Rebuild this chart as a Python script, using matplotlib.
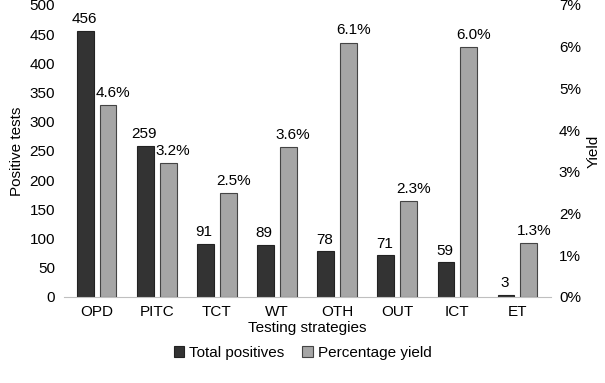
import matplotlib as mpl
import matplotlib.pyplot as plt
import numpy as np
from matplotlib.ticker import FuncFormatter

mpl.rcParams['font.family'] = ['Liberation Sans', 'DejaVu Sans']
mpl.rcParams['font.size'] = 11

strategies = ['OPD', 'PITC', 'TCT', 'WT', 'OTH', 'OUT', 'ICT', 'ET']
total_positives = [456, 259, 91, 89, 78, 71, 59, 3]
yield_pct = [4.6, 3.2, 2.5, 3.6, 6.1, 2.3, 6.0, 1.3]

dark = '#333333'
light = '#a6a6a6'

fig = plt.figure(figsize=(6.05, 3.83), dpi=100)
ax = fig.add_axes([0.105, 0.225, 0.805, 0.762])
ax2 = ax.twinx()

x = np.arange(len(strategies))
w = 0.28
off = 0.19

b1 = ax.bar(x - off, total_positives, w, color=dark, edgecolor='#222222',
            linewidth=0.8, label='Total positives')
b2 = ax2.bar(x + off, yield_pct, w, color=light, edgecolor='#444444',
             linewidth=0.8, label='Percentage yield')

for xi, v in zip(x, total_positives):
    ax.text(xi - off - 0.02, v + 8, str(v), ha='center', va='bottom')
for xi, v in zip(x, yield_pct):
    ax2.text(xi + off + 0.08, v + 0.12, '%.1f%%' % v, ha='center', va='bottom')

ax.set_xlim(-0.55, len(strategies) - 0.45)
ax.set_ylim(0, 500)
ax.set_yticks(range(0, 501, 50))
ax2.set_ylim(0, 7)
ax2.set_yticks(range(0, 8))
ax2.yaxis.set_major_formatter(FuncFormatter(lambda v, p: '%d%%' % v))

ax.set_xticks(x)
ax.set_xticklabels(strategies)
ax.set_xlabel('Testing strategies', labelpad=1)
ax.set_ylabel('Positive tests', labelpad=4)
ax2.set_ylabel('Yield', labelpad=4)

for a in (ax, ax2):
    for s in ('top', 'left', 'right'):
        a.spines[s].set_visible(False)
    a.tick_params(length=0, pad=6)
ax.spines['bottom'].set_color('#bfbfbf')
ax2.spines['bottom'].set_visible(False)

fig.legend(handles=[b1, b2], loc='lower center', ncol=2, frameon=False,
           bbox_to_anchor=(0.5, 0.025), handlelength=0.7, handleheight=0.7,
           handletextpad=0.3, columnspacing=1.2)

fig.savefig('out.png', dpi=100)
